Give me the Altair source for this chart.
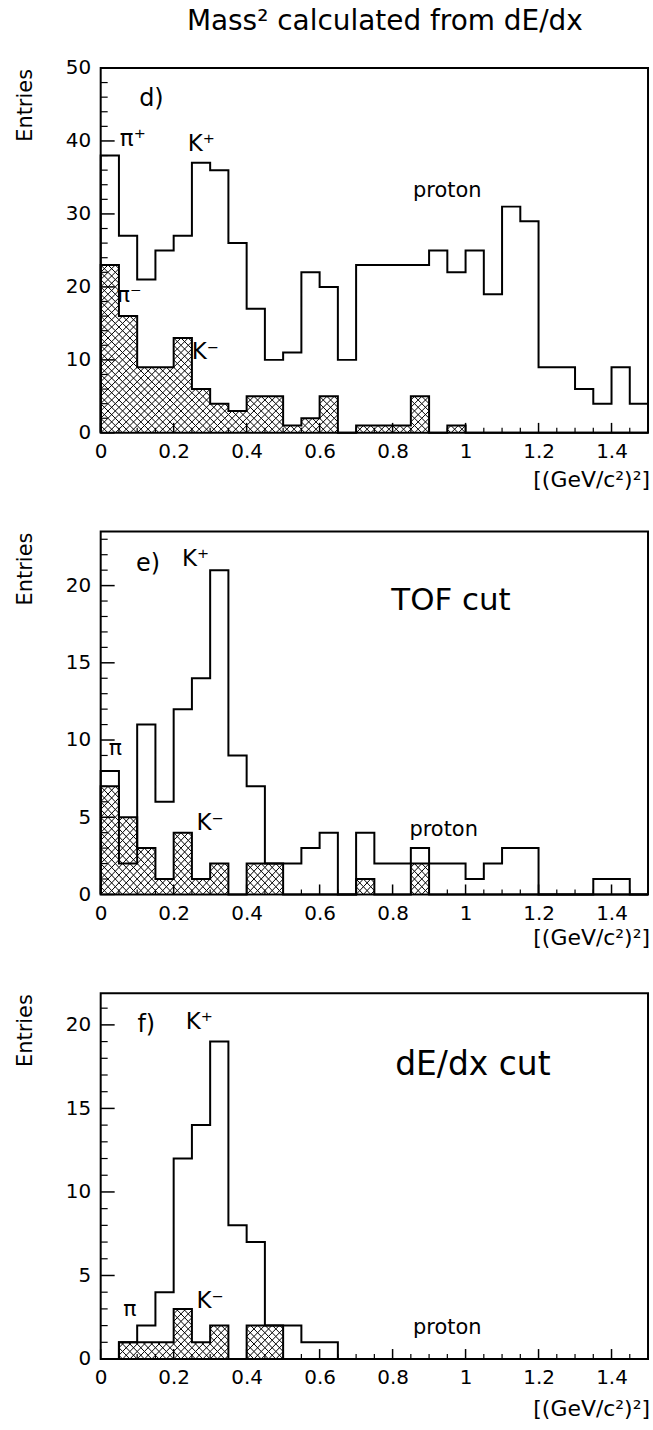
import altair as alt
import pandas as pd

# ---------------- data ----------------
bin_width = 0.05
n_bins = 30
x_max = 1.5

# panel d) : open = positive charge, hatched = negative charge
d_pos = [38, 27, 21, 25, 27, 37, 36, 26, 17, 10, 11, 22, 20, 10, 23, 23, 23, 23, 25, 22,
         25, 19, 31, 29, 9, 9, 6, 4, 9, 4]
d_neg = [23, 16, 9, 9, 13, 6, 4, 3, 5, 5, 1, 2, 5, 0, 1, 1, 1, 5, 0, 1,
         0, 0, 0, 0, 0, 0, 0, 0, 0, 0]
# panel e) TOF cut
e_pos = [8, 2, 11, 6, 12, 14, 21, 9, 7, 2, 2, 3, 4, 0, 4, 2, 2, 3, 2, 2,
         1, 2, 3, 3, 0, 0, 0, 1, 1, 0]
e_neg = [7, 5, 3, 1, 4, 1, 2, 0, 2, 2, 0, 0, 0, 0, 1, 0, 0, 2, 0, 0,
         0, 0, 0, 0, 0, 0, 0, 0, 0, 0]
# panel f) dE/dx cut
f_pos = [0, 1, 2, 4, 12, 14, 19, 8, 7, 2, 2, 1, 1, 0, 0, 0, 0, 0, 0, 0,
         0, 0, 0, 0, 0, 0, 0, 0, 0, 0]
f_neg = [0, 1, 1, 1, 3, 1, 2, 0, 2, 2, 0, 0, 0, 0, 0, 0, 0, 0, 0, 0,
         0, 0, 0, 0, 0, 0, 0, 0, 0, 0]

x_major = [0, 0.2, 0.4, 0.6, 0.8, 1.0, 1.2, 1.4]
x_minor = [0.05, 0.1, 0.15, 0.25, 0.3, 0.35, 0.45, 0.5, 0.55, 0.65, 0.7, 0.75,
           0.85, 0.9, 0.95, 1.05, 1.1, 1.15, 1.25, 1.3, 1.35, 1.45]
d_y_major = [0, 10, 20, 30, 40, 50]
d_y_minor = [2, 4, 6, 8, 12, 14, 16, 18, 22, 24, 26, 28, 32, 34, 36, 38, 42, 44, 46, 48]
ef_y_major = [0, 5, 10, 15, 20]
e_y_minor = [1, 2, 3, 4, 6, 7, 8, 9, 11, 12, 13, 14, 16, 17, 18, 19, 21, 22, 23]
f_y_minor = [1, 2, 3, 4, 6, 7, 8, 9, 11, 12, 13, 14, 16, 17, 18, 19, 21]

title_text = "Mass² calculated from dE/dx"
y_title = "Entries"
x_unit = "[(GeV/c²)²]"

FONT = "DejaVu Sans"
W = 549


def step_frame(vals):
    xs = [0.0] + [i * bin_width for i in range(n_bins)] + [x_max]
    ys = [0] + list(vals) + [0]
    return pd.DataFrame({"x": xs, "y": ys, "o": list(range(len(xs)))})


def clip_seg(x0, y0, x1, y1, xa, xb, ya, yb):
    # Liang-Barsky clipping of a segment to the box [xa,xb]x[ya,yb]
    dx, dy = x1 - x0, y1 - y0
    t0, t1 = 0.0, 1.0
    for p, q in ((-dx, x0 - xa), (dx, xb - x0), (-dy, y0 - ya), (dy, yb - y0)):
        if p == 0:
            if q < 0:
                return None
        else:
            t = q / p
            if p < 0:
                t0 = max(t0, t)
            else:
                t1 = min(t1, t)
    if t0 >= t1 - 1e-9:
        return None
    return (x0 + t0 * dx, y0 + t0 * dy, x0 + t1 * dx, y0 + t1 * dy)


def hatch_frame(vals, cw, ch):
    # cross-hatch lattice (fixed cell size) clipped to each hatched bin
    recs = []
    for i, v in enumerate(vals):
        if v <= 0:
            continue
        xa, xb = i * bin_width, (i + 1) * bin_width
        c0 = int(xa / cw) - 1
        c1 = int(xb / cw) + 1
        nrows = int(v / ch) + 1
        for c in range(c0, c1 + 1):
            cx0, cx1 = c * cw, (c + 1) * cw
            for r in range(nrows):
                cy0, cy1 = r * ch, (r + 1) * ch
                for seg in ((cx0, cy0, cx1, cy1), (cx0, cy1, cx1, cy0)):
                    s = clip_seg(*seg, xa, xb, 0, v)
                    if s:
                        recs.append(s)
    return pd.DataFrame(recs, columns=["x", "y", "x2", "y2"])


def panel(pos, neg, ymax, y_major, y_minor, ch, H, labels, unit_dy, extra=None):
    xs = alt.Scale(domain=[0, x_max], nice=False, zero=False)
    ys = alt.Scale(domain=[0, ymax], nice=False, zero=False)
    xax = alt.Axis(values=x_major, ticks=False, domain=False, grid=False, title=None,
                   format="~g", labelFont=FONT, labelFontSize=20, labelColor="black",
                   labelPadding=9, labelFlush=False, labelOverlap=False)
    yax = alt.Axis(values=y_major, ticks=False, domain=False, grid=False, title=None,
                   format="d", labelFont=FONT, labelFontSize=20, labelColor="black",
                   labelPadding=10, labelFlush=False, labelOverlap=False)

    def X(f):
        return alt.X(f, scale=xs, axis=xax)

    def Y(f):
        return alt.Y(f, scale=ys, axis=yax)

    open_line = alt.Chart(step_frame(pos)).mark_line(
        interpolate="step-after", color="black", strokeWidth=2
    ).encode(x=X("x:Q"), y=Y("y:Q"), order="o:Q")

    hatch = alt.Chart(hatch_frame(neg, 0.02, ch)).mark_rule(
        color="black", strokeWidth=1
    ).encode(x=X("x:Q"), x2="x2:Q", y=Y("y:Q"), y2="y2:Q")

    neg_line = alt.Chart(step_frame(neg)).mark_line(
        interpolate="step-after", color="black", strokeWidth=2
    ).encode(x=X("x:Q"), y=Y("y:Q"), order="o:Q")

    ymaj = alt.Chart(pd.DataFrame({"y": y_major})).mark_rule(color="black", strokeWidth=1.5).encode(
        y=Y("y:Q"), x=alt.value(0), x2=alt.value(14))
    ymin = alt.Chart(pd.DataFrame({"y": y_minor})).mark_rule(color="black", strokeWidth=1.2).encode(
        y=Y("y:Q"), x=alt.value(0), x2=alt.value(7))
    xmaj = alt.Chart(pd.DataFrame({"x": x_major})).mark_rule(color="black", strokeWidth=1.5).encode(
        x=X("x:Q"), y=alt.value(H), y2=alt.value(H - 10))
    xmin = alt.Chart(pd.DataFrame({"x": x_minor})).mark_rule(color="black", strokeWidth=1.2).encode(
        x=X("x:Q"), y=alt.value(H), y2=alt.value(H - 5))

    layers = [hatch, neg_line, open_line, ymaj, ymin, xmaj, xmin]

    lab = pd.DataFrame(labels, columns=["t", "x", "y", "s"])
    for s, grp in lab.groupby("s"):
        layers.append(
            alt.Chart(grp).mark_text(font=FONT, fontSize=float(s), color="black",
                                     align="center", baseline="middle")
            .encode(x=X("x:Q"), y=Y("y:Q"), text="t:N")
        )

    one = pd.DataFrame({"a": [0]})
    layers.append(
        alt.Chart(one).mark_text(font=FONT, fontSize=21, color="black", angle=270,
                                 align="right", baseline="alphabetic", text=y_title)
        .encode(x=alt.value(-69), y=alt.value(1))
    )
    layers.append(
        alt.Chart(one).mark_text(font=FONT, fontSize=22, color="black",
                                 align="right", baseline="alphabetic", text=x_unit)
        .encode(x=alt.value(551), y=alt.value(H + unit_dy))
    )
    if extra:
        layers.extend(extra)
    return alt.layer(*layers).properties(width=W, height=H)


one = pd.DataFrame({"a": [0]})
top_extra = [
    alt.Chart(one).mark_text(font=FONT, fontSize=28, color="black", align="center",
                             baseline="alphabetic", text=title_text)
    .encode(x=alt.value(285), y=alt.value(-38)),
    alt.Chart(one).mark_rule(opacity=0, strokeOpacity=0).encode(
        x=alt.value(-100), x2=alt.value(553), y=alt.value(-65)),
]

pd_labels = [("d)", 0.139, 45.8, 24), ("π⁺", 0.088, 40.2, 23), ("K⁺", 0.276, 39.6, 23),
             ("proton", 0.95, 33.2, 21), ("π⁻", 0.078, 18.9, 22), ("K⁻", 0.287, 11.1, 23)]
pe_labels = [("e)", 0.13, 21.4, 24), ("K⁺", 0.26, 21.7, 23), ("TOF cut", 0.96, 19.0, 31),
             ("π", 0.04, 9.5, 22), ("K⁻", 0.30, 4.6, 23), ("proton", 0.94, 4.2, 21)]
pf_labels = [("f)", 0.125, 20.0, 24), ("K⁺", 0.27, 20.2, 23), ("dE/dx cut", 1.02, 17.6, 33),
             ("π", 0.08, 3.0, 22), ("K⁻", 0.30, 3.5, 23), ("proton", 0.95, 1.85, 21)]

p_d = panel(d_pos, d_neg, 50, d_y_major, d_y_minor, 1.0, 366, pd_labels, 54, top_extra)
p_e = panel(e_pos, e_neg, 23.5, ef_y_major, e_y_minor, 0.5, 364, pe_labels, 51)
p_f = panel(f_pos, f_neg, 21.9, ef_y_major, f_y_minor, 0.45, 367, pf_labels, 57)

chart = alt.vconcat(p_d, p_e, p_f, spacing=99, bounds="flush").properties(
    padding=0, background="white"
).configure_view(stroke="black", strokeWidth=2)

chart.save("out.html", embed_options={"renderer": "svg", "actions": False})
